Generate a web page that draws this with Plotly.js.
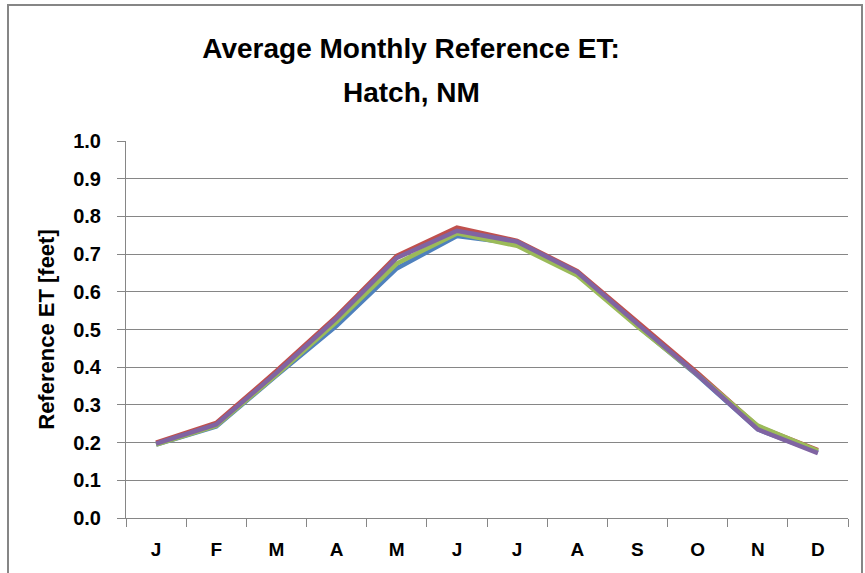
<!DOCTYPE html>
<html>
<head>
<meta charset="utf-8">
<script src="https://cdn.plot.ly/plotly-3.0.1.min.js"></script>
<style>
  html, body { margin: 0; padding: 0; background: #fff; }
  #chart { width: 865px; height: 573px; }
</style>
</head>
<body>
<div id="chart"></div>
<script>
const months = ["J", "F", "M", "A", "M", "J", "J", "A", "S", "O", "N", "D"];
const monthIdx = [0, 1, 2, 3, 4, 5, 6, 7, 8, 9, 10, 11];
const seriesBlue   = [0.195, 0.243, 0.378, 0.510, 0.662, 0.748, 0.728, 0.648, 0.510, 0.378, 0.235, 0.175];
const seriesRed    = [0.200, 0.252, 0.390, 0.535, 0.695, 0.770, 0.735, 0.655, 0.520, 0.385, 0.243, 0.180];
const seriesGreen  = [0.195, 0.245, 0.380, 0.520, 0.675, 0.755, 0.722, 0.643, 0.508, 0.380, 0.245, 0.178];
const seriesPurple = [0.197, 0.248, 0.385, 0.530, 0.690, 0.762, 0.733, 0.652, 0.515, 0.380, 0.235, 0.172];
const yTicks = [0, 0.1, 0.2, 0.3, 0.4, 0.5, 0.6, 0.7, 0.8, 0.9, 1.0];
const yTickText = ["0.0", "0.1", "0.2", "0.3", "0.4", "0.5", "0.6", "0.7", "0.8", "0.9", "1.0"];

const font = "'Liberation Sans', Arial, sans-serif";
function line(y, color) {
  return { x: monthIdx, y: y, type: "scatter", mode: "lines",
           line: { color: color, width: 4.5 }, hoverinfo: "skip", showlegend: false };
}
const data = [
  line(seriesBlue, "#4F81BD"),
  line(seriesRed, "#C0504D"),
  line(seriesGreen, "#9BBB59"),
  line(seriesPurple, "#8064A2")
];

const W = 722, H = 377;
const layout = {
  width: 865, height: 573,
  margin: { l: 126, r: 17, t: 141, b: 55 },
  paper_bgcolor: "#fff", plot_bgcolor: "#fff",
  showlegend: false,
  title: { text: "Average Monthly Reference ET:", x: 411/865, xanchor: "center",
           y: 1 - 48/573, yanchor: "middle", yref: "container",
           font: { family: font, size: 28, color: "#000", weight: "bold" } },
  annotations: [
    { text: "Hatch, NM", xref: "paper", yref: "paper",
      x: (411 - 126) / W, y: (518 - 93) / H, xanchor: "center", yanchor: "middle",
      showarrow: false, font: { family: font, size: 28, color: "#000", weight: "bold" } }
  ],
  xaxis: {
    type: "linear", range: [-0.5, 11.5],
    tickmode: "array", tickvals: monthIdx, ticktext: months,
    showgrid: false, zeroline: false,
    showline: true, linecolor: "#868686", linewidth: 1,
    ticks: "",
    tickfont: { family: font, size: 19, color: "#000", weight: "bold" },
    ticklabelstandoff: 14
  },
  xaxis2: {
    overlaying: "x", range: [-0.5, 11.5], tickmode: "array",
    tickvals: [-0.5, 0.5, 1.5, 2.5, 3.5, 4.5, 5.5, 6.5, 7.5, 8.5, 9.5, 10.5, 11.5],
    ticks: "outside", ticklen: 8, tickcolor: "#868686", showticklabels: false,
    showgrid: false, zeroline: false, showline: false
  },
  yaxis: {
    range: [0, 1.0], tickmode: "array", tickvals: yTicks, ticktext: yTickText,
    showgrid: true, gridcolor: "#868686", gridwidth: 1,
    zeroline: false, showline: true, linecolor: "#868686", linewidth: 1,
    ticks: "outside", ticklen: 8, tickcolor: "#868686",
    tickfont: { family: font, size: 20, color: "#000", weight: "bold" },
    ticklabelstandoff: 12,
    title: { text: "Reference ET [feet]", standoff: 12,
             font: { family: font, size: 22, color: "#000", weight: "bold" } }
  },
  shapes: [
    { type: "rect", xref: "paper", yref: "paper",
      x0: (8 - 126) / W, x1: (862 - 126) / W, y0: (518 - 590) / H, y1: (518 - 5) / H,
      line: { color: "#868686", width: 2 }, fillcolor: "rgba(0,0,0,0)", layer: "below" }
  ]
};
data.push({ x: [-0.5], y: [0], xaxis: "x2", type: "scatter", mode: "markers",
            marker: { opacity: 0 }, hoverinfo: "skip", showlegend: false });

Plotly.newPlot("chart", data, layout, { displayModeBar: false, staticPlot: true });
</script>
</body>
</html>
